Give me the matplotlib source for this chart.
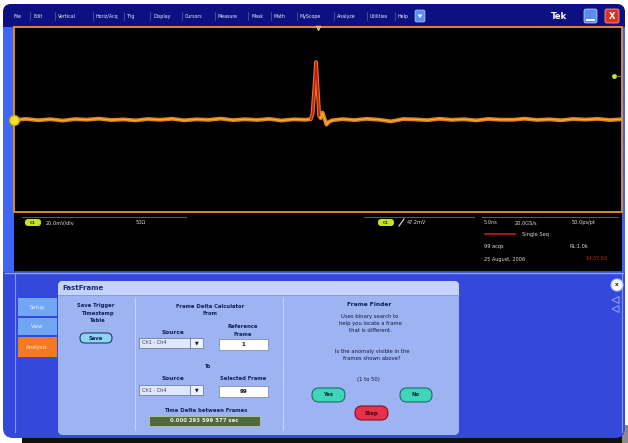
import matplotlib
matplotlib.use("Agg")
import matplotlib.pyplot as plt
from matplotlib.patches import Rectangle, FancyBboxPatch, Circle, Polygon
import matplotlib.transforms as mtransforms

# menu bar entries
menu_items = ["File", "Edit", "Vertical", "Horiz/Acq", "Trig", "Display", "Cursors",
              "Measure", "Mask", "Math", "MyScope", "Analyze", "Utilities", "Help"]
menu_x = [14, 33, 58, 96, 127, 153, 185, 218, 251, 274, 300, 337, 370, 398]

# acquired trace: time (ns, trigger at 0) and amplitude (mV)
pre_t = list(range(-25, 0))
pre_mv = [-0.5, 0.6, -0.8, 0.3, -1.2, 0.4, -0.2, 0.9, -0.6, 0.1, -1.0, 0.5, -0.3,
          0.8, -0.9, 0.2, -0.4, 1.0, -0.7, 0.3, -0.5, 0.6, -1.1, 0.2, -0.3]
pulse_t = [-0.6, -0.45, -0.3, -0.16, -0.02, 0.1, 0.22, 0.37, 0.55, 0.7, 0.9, 1.2]
pulse_mv = [0.4, 6.0, 34.0, 62.0, 30.0, 4.0, 1.5, 7.5, 0.5, -5.5, -2.5, -0.8]
post_t = list(range(2, 26))
post_mv = [0.4, -0.6, 0.7, -0.2, -2.0, 0.5, 0.1, -0.7, 0.8, -0.4, 0.3, -1.0, 0.6,
           -0.2, -0.3, 0.9, -0.5, 0.2, -0.8, 0.6, -0.1, 0.7, -0.6, 0.3]
time_ns = pre_t + pulse_t + post_t
trace_mv = pre_mv + pulse_mv + post_mv

# scope settings
mv_per_div = 20.0
ns_per_div = 5.0
trig_level_mv = 47.2
ch_offset_mv = -0.5

# readouts
ch_readout = ["20.0mV/div", "50Ω"]
trig_readout = "47.2mV"
timebase = ["5.0ns", "20.0GS/s", "50.0ps/pt"]
acq_mode = "Single Seq"
acq_count = "99 acqs"
record_len = "RL:1.0k"
date_str = "25 August, 2006"
time_str = "14:37:50"

# FastFrame panel values
source_choice = "Ch1 - Ch4"
ref_frame = 1
sel_frame = 99
time_delta = "0.000 293 599 577 sec"
frame_range = (1, 50)

fig = plt.figure(figsize=(6.28, 4.43), dpi=100)
fig.patch.set_facecolor("white")
bg = fig.add_axes([0, 0, 1, 1])
bg.set_xlim(0, 628)
bg.set_ylim(443, 0)
bg.axis("off")


def box(x0, y0, x1, y1, fc, r=0, ec="none", lw=0, z=1):
    if r:
        p = FancyBboxPatch((x0, y0), x1 - x0, y1 - y0,
                           boxstyle=f"round,pad=0,rounding_size={r}",
                           fc=fc, ec=ec, lw=lw, zorder=z)
    else:
        p = Rectangle((x0, y0), x1 - x0, y1 - y0, fc=fc, ec=ec, lw=lw, zorder=z)
    bg.add_patch(p)
    return p


def txt(x, y, s, size=4.2, color="#10205a", weight="bold", ha="center", z=10):
    bg.text(x, y, s, fontsize=size, color=color, fontweight=weight,
            ha=ha, va="center", zorder=z)


# monitor bezel and screen body
box(22, 428, 622, 443, "#111111", z=0)
box(622, 425, 628, 443, "#8a8a8a", z=0)
box(3, 4, 625, 438, "#3449dc", r=10, z=1)
box(3, 4, 625, 27, "#0d1080", r=8, z=2)
box(3, 16, 625, 27, "#0d1080", z=2)
box(3, 27, 14, 272, "#3f66f2", z=2)
box(622, 27, 625, 272, "#3f66f2", z=2)

# menu bar
for i, (name, x) in enumerate(zip(menu_items, menu_x)):
    txt(x, 16, name, size=3.4, color="#e8ecff", weight="normal", ha="left", z=5)
    if i > 0:
        bg.plot([x - 3, x - 3], [12, 20], color="#6c74b8", lw=0.4, zorder=5)
box(415, 10, 425, 22, "#5d8ef2", r=1.5, ec="#c8d8ff", lw=0.4, z=5)
bg.add_patch(Polygon([[417.5, 14.5], [422.5, 14.5], [420, 18]], closed=True,
                     fc="white", zorder=6))
txt(559, 16, "Tek", size=6, color="white", ha="center", z=5)
box(584, 9, 597, 23, "#5a8cf0", r=2, ec="#c8d8ff", lw=0.5, z=5)
bg.plot([587, 594], [20, 20], color="white", lw=1.4, zorder=6)
box(605, 9, 619, 23, "#e03020", r=2, ec="#ffc0b0", lw=0.5, z=5)
txt(612, 16, "X", size=6, color="white", z=6)

# status readout area
box(14, 212, 622, 271, "black", z=2)
for x0, x1 in [(22, 186), (364, 474), (482, 618)]:
    bg.plot([x0, x1], [217, 217], color="#5a5a5a", lw=0.8, zorder=3)
box(25, 219, 41, 226, "#c8e028", r=3, z=3)
txt(33, 222.5, "C1", size=3, color="#1a3000", z=4)
txt(46, 222.5, ch_readout[0], size=3.6, color="#dcdcdc", weight="normal", ha="left")
txt(136, 222.5, ch_readout[1], size=3.6, color="#dcdcdc", weight="normal", ha="left")
box(378, 219, 394, 226, "#c8e028", r=3, z=3)
txt(386, 222.5, "C1", size=3, color="#1a3000", z=4)
bg.plot([399, 404], [226, 219], color="#e8e8e8", lw=0.8, zorder=4)
txt(407, 222.5, trig_readout, size=3.6, color="#dcdcdc", weight="normal", ha="left")
txt(484, 222.5, timebase[0], size=3.6, color="#dcdcdc", weight="normal", ha="left")
txt(515, 222.5, timebase[1], size=3.6, color="#dcdcdc", weight="normal", ha="left")
txt(572, 222.5, timebase[2], size=3.6, color="#dcdcdc", weight="normal", ha="left")
bg.plot([485, 515], [234, 234], color="#c81818", lw=1.2, zorder=4)
txt(522, 234, acq_mode, size=3.6, color="#dcdcdc", weight="normal", ha="left")
txt(484, 246.5, acq_count, size=3.6, color="#dcdcdc", weight="normal", ha="left")
txt(570, 246.5, record_len, size=3.6, color="#dcdcdc", weight="normal", ha="left")
txt(484, 259, date_str, size=3.6, color="#dcdcdc", weight="normal", ha="left")
txt(586, 259, time_str, size=3.6, color="#d02818", weight="normal", ha="left")

# lower control window
bg.plot([5, 623], [273, 273], color="#8aa6f8", lw=1.0, zorder=3)
bg.plot([15, 15], [274, 432], color="#7d98f4", lw=0.8, zorder=3)
bg.plot([622, 622], [274, 432], color="#7d98f4", lw=0.8, zorder=3)

# side tabs
box(18, 298, 57, 316, "#71a6f2", z=3)
txt(37, 307, "Setup", size=3.8, color="#e8f0ff", weight="normal")
box(18, 318, 57, 335, "#71a6f2", z=3)
txt(37, 326.5, "View", size=3.8, color="#e8f0ff", weight="normal")
box(18, 337, 57, 357, "#f27a22", z=3)
txt(37, 347, "Analysis", size=3.8, color="#ffe8d8", weight="normal")

# FastFrame panel
box(58, 281, 459, 435, "#9db3f2", r=5, z=3)
box(58, 281, 459, 295, "#c5d3fa", r=5, z=4)
box(58, 289, 459, 295, "#c5d3fa", z=4)
bg.plot([58, 459], [295, 295], color="#8090d0", lw=0.5, zorder=5)
txt(62, 288, "FastFrame", size=5, color="#1a2a70", ha="left")
for x in (135, 283):
    bg.plot([x, x], [298, 430], color="#c4d2fa", lw=0.8, zorder=5)

txt(96, 305, "Save Trigger", size=3.8)
txt(97, 313, "Timestamp", size=3.8)
txt(97, 320, "Table", size=3.8)
box(80, 333, 112, 343, "#8fd4f2", r=5, ec="#1c3a7a", lw=0.8, z=5)
txt(96, 338, "Save", size=3.8, z=6)

txt(210, 306, "Frame Delta Calculator", size=3.8)
txt(210, 313.5, "From", size=3.8)
txt(173, 332, "Source", size=4.2)
txt(243, 327, "Reference", size=3.8)
txt(243, 334, "Frame", size=3.8)
txt(207, 367, "To", size=3.8)
txt(173, 378, "Source", size=4.2)
txt(243, 378, "Selected Frame", size=3.8)
for y0 in (338, 385):
    box(139, y0, 190, y0 + 10, "#dfe8fb", ec="#607090", lw=0.5, z=5)
    box(190, y0, 203, y0 + 10, "#eef2fd", ec="#607090", lw=0.5, z=5)
    txt(142, y0 + 5, source_choice, size=3.6, color="#3a3a50", weight="normal", ha="left", z=6)
    txt(196.5, y0 + 5, "▼", size=3.4, color="#101010", z=6)
box(219, 339, 268, 350, "white", ec="#7080a0", lw=0.5, z=5)
txt(243.5, 344.5, str(ref_frame), size=4, color="#101010", z=6)
box(219, 386, 268, 397, "white", ec="#7080a0", lw=0.5, z=5)
txt(243.5, 391.5, str(sel_frame), size=4, color="#101010", z=6)
txt(206, 410, "Time Delta between Frames", size=3.8)
box(149, 416, 260, 426, "#4f6a3c", ec="#b8c8a8", lw=0.6, z=5)
txt(204.5, 421, time_delta, size=3.9, color="#f0f0e8", z=6)

txt(369, 305, "Frame Finder", size=4.2)
txt(370, 316.5, "Uses binary search to", size=3.8, weight="normal", color="#101838")
txt(370, 323, "help you locate a frame", size=3.8, weight="normal", color="#101838")
txt(370, 330, "that is different.", size=3.8, weight="normal", color="#101838")
txt(372, 351.5, "Is the anomaly visible in the", size=3.8, weight="normal", color="#101838")
txt(372, 358, "frames shown above?", size=3.8, weight="normal", color="#101838")
txt(368, 379.5, f"({frame_range[0]} to {frame_range[1]})", size=3.8, weight="normal", color="#101838")
box(312, 388, 345, 402, "#3fd6b8", r=7, ec="#1d6a70", lw=0.8, z=5)
txt(328.5, 395, "Yes", size=3.8, color="#0a2a40", z=6)
box(400, 388, 432, 402, "#3fd6b8", r=7, ec="#1d6a70", lw=0.8, z=5)
txt(416, 395, "No", size=3.8, color="#0a2a40", z=6)
box(355, 406, 388, 420, "#e8304a", r=7, ec="#801020", lw=0.8, z=5)
txt(371.5, 413, "Stop", size=3.8, color="#400010", z=6)

# window close and scroll arrows
bg.add_patch(Circle((617, 285), 6, fc="white", ec="#b0c0f0", lw=0.8, zorder=5))
txt(617, 285, "x", size=4, color="#202040", z=6)
for yc in (300, 309):
    bg.add_patch(Polygon([[612, yc], [619, yc - 3.5], [619, yc + 3.5]], closed=True,
                         fill=False, ec="#8ea4f4", lw=0.7, zorder=5))

# waveform graticule
ax = fig.add_axes([14 / 628, (443 - 212) / 443, 608 / 628, 185 / 443])
ax.set_facecolor("black")
half_x = ns_per_div * 5
half_y = mv_per_div * 5
ax.set_xlim(-half_x, half_x)
ax.set_ylim(-half_y, half_y)
ax.set_xticks([])
ax.set_yticks([])
for s in ax.spines.values():
    s.set_color("#e08a20")
    s.set_linewidth(1.4)
for k in range(-4, 5):
    ax.axvline(k * ns_per_div, color="#121212", lw=0.4, ls=(0, (1, 5)), zorder=0)
    ax.axhline(k * mv_per_div, color="#121212", lw=0.4, ls=(0, (1, 5)), zorder=0)

ax.plot(time_ns, trace_mv, color="#e0801a", lw=2.8, zorder=2, solid_joinstyle="round")
ax.plot(time_ns, trace_mv, color="#f4c040", lw=0.8, zorder=3, alpha=0.8)
ax.plot(pulse_t[:6], pulse_mv[:6], color="#c81818", lw=1.3, zorder=4)

# channel, trigger level and trigger position markers
ax.plot(-half_x, ch_offset_mv, marker="o", ms=7, color="#f2e030", mec="#c8b000",
        clip_on=False, zorder=6)
tr = mtransforms.blended_transform_factory(ax.transAxes, ax.transData)
ax.plot([0.987], [trig_level_mv], marker="o", ms=2.5, color="#c8e040", transform=tr,
        clip_on=False, zorder=6)
ax.plot([0.99, 1.0], [trig_level_mv, trig_level_mv], color="#8a9a30", lw=0.6,
        transform=tr, clip_on=False, zorder=6)
tr2 = mtransforms.blended_transform_factory(ax.transData, ax.transAxes)
ax.plot([0], [0.995], marker="v", ms=3.5, color="#f0a040", mec="#ffe0b0", mew=0.4,
        transform=tr2, clip_on=False, zorder=6)

fig.savefig("out.png", dpi=100, facecolor=fig.get_facecolor())
